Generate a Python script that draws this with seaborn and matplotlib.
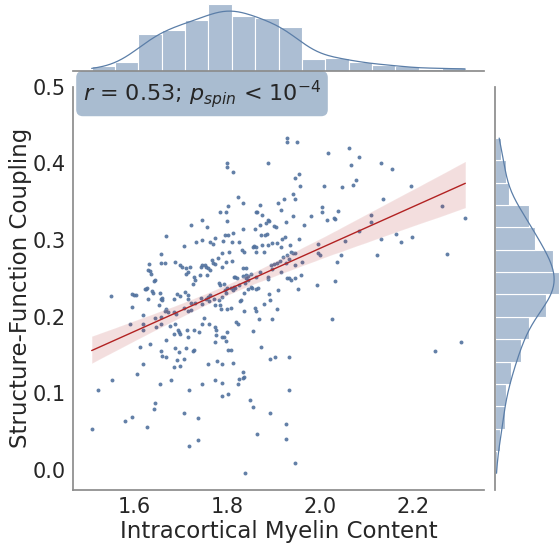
import matplotlib
matplotlib.use("Agg")
import matplotlib.pyplot as plt
import numpy as np
import pandas as pd
import seaborn as sns

# Intracortical myelin content (x) and structure-function coupling (y)
myelin = [
    1.928, 1.928, 1.951, 1.800, 1.800, 1.813, 1.889, 2.017, 2.062, 2.083,
    2.066, 2.131, 2.155, 1.954, 1.947, 1.957, 2.076, 2.071, 2.047, 2.009,
    2.196, 1.823, 1.835, 1.803, 1.942, 1.947, 1.923, 1.910, 2.136, 2.261,
    2.004, 2.004, 2.038, 2.030, 2.032, 2.015, 2.312, 1.870, 1.863, 1.864,
    1.875, 1.887, 1.890, 1.883, 1.870, 1.916, 1.926, 1.942, 1.980, 1.965,
    2.110, 2.110, 2.083, 1.785, 1.798, 1.800, 1.746, 1.723, 1.757, 1.835,
    1.813, 1.860, 1.872, 1.881, 1.885, 1.901, 1.905, 1.918, 1.924, 1.936,
    1.955, 2.164, 2.197, 2.130, 2.174, 2.053, 1.996, 1.668, 1.707, 1.734,
    1.747, 1.764, 1.769, 1.773, 1.792, 1.796, 1.802, 1.810, 1.825, 1.833,
    1.836, 1.805, 1.788, 1.855, 1.858, 1.863, 1.874, 1.862, 1.880, 1.887,
    1.896, 1.908, 1.916, 1.928, 1.945, 1.659, 1.658, 1.667, 1.633, 1.629,
    1.635, 1.689, 1.699, 1.704, 1.712, 1.720, 1.716, 1.712, 1.729, 1.730,
    1.727, 1.743, 1.747, 1.752, 1.755, 1.758, 1.764, 1.769, 1.774, 1.767,
    1.781, 1.788, 1.798, 1.810, 1.742, 1.756, 1.782, 1.785, 1.794, 1.800,
    1.809, 1.813, 1.814, 1.817, 1.821, 1.834, 1.841, 1.845, 1.840, 1.844,
    1.852, 1.863, 1.871, 1.888, 1.888, 1.896, 1.894, 1.901, 1.907, 1.913,
    1.916, 1.921, 1.927, 1.934, 1.937, 1.942, 1.947, 1.962, 1.945, 1.937,
    1.933, 1.958, 1.952, 1.993, 1.996, 1.999, 2.044, 2.036, 2.032, 2.123,
    2.273, 1.835, 1.840, 1.637, 1.642, 1.646, 1.623, 1.627, 1.639, 1.656,
    1.660, 1.658, 1.660, 1.653, 1.668, 1.686, 1.692, 1.699, 1.709, 1.715,
    1.717, 1.707, 1.717, 1.723, 1.723, 1.731, 1.743, 1.746, 1.754, 1.759,
    1.763, 1.761, 1.772, 1.773, 1.782, 1.785, 1.789, 1.796, 1.798, 1.787,
    1.800, 1.808, 1.814, 1.817, 1.825, 1.829, 1.837, 1.839, 1.846, 1.852,
    1.854, 1.862, 1.867, 1.859, 1.879, 1.890, 1.893, 1.910, 1.908, 1.929,
    1.550, 1.596, 1.601, 1.604, 1.596, 1.591, 1.619, 1.620, 1.625, 1.630,
    1.641, 1.645, 1.648, 1.658, 1.659, 1.666, 1.672, 1.678, 1.687, 1.690,
    1.686, 1.686, 1.619, 1.613, 1.620, 1.635, 1.606, 1.552, 1.522, 1.509,
    1.581, 1.596, 1.627, 1.642, 1.645, 1.656, 1.679, 1.694, 1.697, 1.698,
    1.714, 1.717, 1.729, 1.727, 1.729, 1.712, 1.696, 1.689, 1.686, 1.692,
    1.699, 1.708, 1.668, 1.658, 1.661, 1.669, 1.751, 1.747, 1.740, 1.761,
    1.773, 1.776, 1.775, 1.777, 1.790, 1.793, 1.798, 1.799, 1.802, 1.808,
    1.820, 1.824, 1.828, 1.836, 1.779, 1.790, 1.759, 1.812, 1.774, 1.788,
    1.746, 1.718, 1.856, 1.868, 1.863, 1.897, 1.873, 1.903, 1.893, 1.934,
    2.025, 2.247, 2.302, 1.835, 1.837, 1.826, 1.835, 1.823, 1.790, 1.801,
    1.849, 1.855, 1.892, 1.934, 1.927, 1.927, 1.945, 1.864, 1.838, 1.738,
    1.737, 1.718, 1.707,
]
coupling = [
    0.433, 0.428, 0.428, 0.401, 0.395, 0.389, 0.400, 0.413, 0.420, 0.408,
    0.398, 0.400, 0.393, 0.386, 0.381, 0.370, 0.378, 0.372, 0.369, 0.370,
    0.371, 0.356, 0.348, 0.345, 0.360, 0.354, 0.354, 0.349, 0.353, 0.344,
    0.343, 0.337, 0.338, 0.329, 0.327, 0.326, 0.329, 0.346, 0.337, 0.336,
    0.333, 0.326, 0.325, 0.322, 0.320, 0.339, 0.324, 0.332, 0.331, 0.320,
    0.333, 0.323, 0.312, 0.337, 0.336, 0.325, 0.326, 0.320, 0.317, 0.314,
    0.309, 0.315, 0.306, 0.307, 0.308, 0.318, 0.317, 0.302, 0.304, 0.293,
    0.302, 0.308, 0.304, 0.302, 0.297, 0.299, 0.295, 0.305, 0.292, 0.298,
    0.300, 0.297, 0.295, 0.303, 0.299, 0.306, 0.307, 0.297, 0.298, 0.287,
    0.284, 0.285, 0.283, 0.291, 0.292, 0.291, 0.293, 0.285, 0.285, 0.293,
    0.296, 0.296, 0.291, 0.280, 0.283, 0.282, 0.270, 0.270, 0.269, 0.261,
    0.260, 0.272, 0.267, 0.265, 0.263, 0.265, 0.258, 0.256, 0.252, 0.248,
    0.243, 0.265, 0.267, 0.268, 0.265, 0.263, 0.261, 0.270, 0.269, 0.274,
    0.276, 0.265, 0.271, 0.273, 0.255, 0.254, 0.244, 0.241, 0.243, 0.237,
    0.238, 0.235, 0.252, 0.252, 0.251, 0.253, 0.254, 0.253, 0.250, 0.248,
    0.256, 0.252, 0.259, 0.252, 0.249, 0.262, 0.267, 0.269, 0.270, 0.273,
    0.259, 0.278, 0.270, 0.275, 0.285, 0.283, 0.268, 0.271, 0.250, 0.248,
    0.250, 0.255, 0.236, 0.241, 0.283, 0.281, 0.280, 0.271, 0.247, 0.280,
    0.282, 0.263, 0.263, 0.256, 0.247, 0.248, 0.236, 0.237, 0.233, 0.231,
    0.225, 0.223, 0.222, 0.215, 0.210, 0.223, 0.230, 0.227, 0.232, 0.229,
    0.223, 0.211, 0.208, 0.209, 0.218, 0.218, 0.224, 0.217, 0.223, 0.226,
    0.228, 0.220, 0.223, 0.215, 0.222, 0.215, 0.226, 0.235, 0.231, 0.210,
    0.210, 0.212, 0.239, 0.237, 0.241, 0.222, 0.231, 0.244, 0.236, 0.239,
    0.237, 0.236, 0.237, 0.212, 0.217, 0.230, 0.222, 0.235, 0.210, 0.250,
    0.227, 0.230, 0.229, 0.229, 0.213, 0.190, 0.202, 0.191, 0.236, 0.223,
    0.231, 0.198, 0.187, 0.200, 0.191, 0.207, 0.206, 0.188, 0.190, 0.204,
    0.206, 0.178, 0.183, 0.161, 0.138, 0.164, 0.125, 0.118, 0.105, 0.054,
    0.064, 0.069, 0.056, 0.080, 0.087, 0.112, 0.118, 0.183, 0.180, 0.178,
    0.183, 0.174, 0.183, 0.155, 0.157, 0.159, 0.154, 0.159, 0.135, 0.144,
    0.136, 0.145, 0.170, 0.156, 0.149, 0.147, 0.198, 0.191, 0.180, 0.191,
    0.187, 0.183, 0.167, 0.176, 0.174, 0.174, 0.169, 0.180, 0.157, 0.157,
    0.193, 0.191, 0.221, 0.207, 0.143, 0.138, 0.138, 0.140, 0.117, 0.114,
    0.112, 0.105, 0.181, 0.197, 0.208, 0.197, 0.161, 0.148, 0.145, 0.147,
    0.197, 0.155, 0.167, 0.128, 0.122, 0.119, 0.120, 0.112, 0.097, 0.099,
    0.091, 0.083, 0.075, 0.105, 0.060, 0.041, 0.010, 0.047, -0.004, 0.068,
    0.039, 0.031, 0.075,
]

xlabel = "Intracortical Myelin Content"
ylabel = "Structure-Function Coupling"
stat_text = r"$r$ = 0.53; $p_{spin}$ < $10^{-4}$"
x_ticks = [1.6, 1.8, 2.0, 2.2]
y_ticks = [0.0, 0.1, 0.2, 0.3, 0.4, 0.5]

df = pd.DataFrame({"myelin": myelin, "coupling": coupling})

sns.set_theme(style="white")
plt.rcParams["font.family"] = ["DejaVu Sans"]
plt.rcParams["axes.edgecolor"] = "0.55"

point_color = "#52729e"
hist_color = "#5b7ea8"
reg_color = "#b22222"
text_color = "#262626"

W, H = 560, 548
fig = plt.figure(figsize=(W / 100, H / 100), dpi=100)

def fx(px):
    return px / W

def fy(py):
    return (H - py) / H

ax = fig.add_axes([fx(73), fy(490), fx(484) - fx(73), fy(86.7) - fy(490)])
ax_top = fig.add_axes([fx(73), fy(71), fx(484) - fx(73), fy(1) - fy(71)], sharex=ax)
ax_right = fig.add_axes([fx(495), fy(490), fx(562) - fx(495), fy(86.7) - fy(490)], sharey=ax)

sns.scatterplot(data=df, x="myelin", y="coupling", ax=ax, s=8, color=point_color,
                linewidth=0, alpha=0.9)
sns.regplot(data=df, x="myelin", y="coupling", ax=ax, scatter=False,
            color=reg_color, line_kws={"lw": 1.0})

sns.histplot(data=df, x="myelin", ax=ax_top, bins=16, kde=True, color=hist_color,
             alpha=0.5, edgecolor="white", linewidth=0.8, line_kws={"lw": 0.9})
sns.histplot(data=df, y="coupling", ax=ax_right, bins=15, kde=True, color=hist_color,
             alpha=0.5, edgecolor="white", linewidth=0.8, line_kws={"lw": 0.9})

ax.set_ylim(top=0.5)
ax.set_xticks(x_ticks)
ax.set_yticks(y_ticks)
ax.set_xticklabels([f"{v:.1f}" for v in x_ticks])
ax.set_yticklabels([f"{v:.1f}" for v in y_ticks])
ax.tick_params(length=0, pad=5, labelsize=15, colors=text_color)
ax.set_xlabel(xlabel, fontsize=16.5, color=text_color, labelpad=2)
ax.set_ylabel(ylabel, fontsize=16.5, color=text_color, labelpad=0.5)
sns.despine(ax=ax)

for a in (ax_top, ax_right):
    a.set_xlabel("")
    a.set_ylabel("")
    a.tick_params(length=0, labelbottom=False, labelleft=False)
sns.despine(ax=ax_top, left=True)
sns.despine(ax=ax_right, bottom=True)
ax_top.set_yticks([])
ax_right.set_xticks([])

ax.text(0.024, 0.983, stat_text, transform=ax.transAxes, ha="left", va="center",
        fontsize=16, color=text_color, clip_on=False, zorder=10,
        bbox=dict(boxstyle="round,pad=0.3", fc="#a9bcd0", ec="none"))

fig.savefig("out.png", dpi=100)
